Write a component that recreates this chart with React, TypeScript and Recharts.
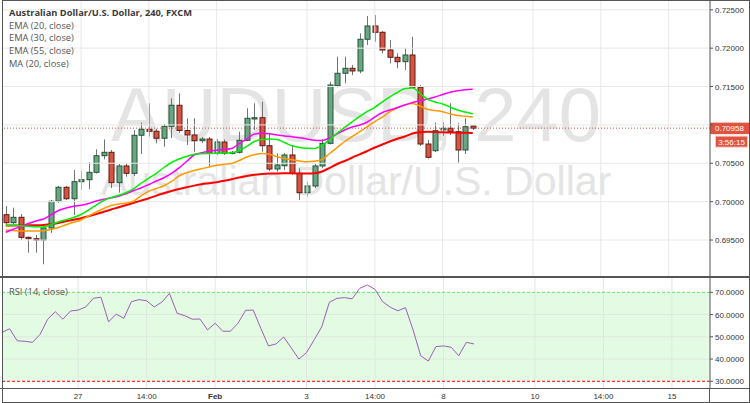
import React from 'react';
import { ComposedChart, Bar, Line, XAxis, YAxis, ReferenceLine, ReferenceArea } from 'recharts';

// AUDUSD 240 candles
const opens = [
  0.69830, 0.69726, 0.69796, 0.69535, 0.69517, 0.69500, 0.69657, 0.70005, 0.70187, 0.70038,
  0.70260, 0.70286, 0.70382, 0.70599, 0.70643, 0.70247, 0.70465, 0.70369, 0.70865, 0.70943,
  0.70917, 0.70826, 0.70982, 0.71256, 0.70927, 0.70869, 0.70794, 0.70816, 0.70630, 0.70777,
  0.70630, 0.70643, 0.70799, 0.71077, 0.71094, 0.70729, 0.70425, 0.70468, 0.70608, 0.70369,
  0.70117, 0.70204, 0.70465, 0.70760, 0.71511, 0.71673, 0.71738, 0.71703, 0.72116, 0.72289,
  0.72207, 0.71976, 0.71881, 0.71824, 0.71911, 0.71490, 0.70751, 0.70664, 0.70934, 0.70956,
  0.70912, 0.70673, 0.70986,
];
const highs = [
  0.69943, 0.69921, 0.69839, 0.69546, 0.69565, 0.69670, 0.70022, 0.70204, 0.70204, 0.70412,
  0.70403, 0.70513, 0.70682, 0.70810, 0.70673, 0.70491, 0.70504, 0.70934, 0.71029, 0.71282,
  0.70947, 0.71012, 0.71347, 0.71412, 0.71086, 0.71086, 0.70842, 0.70842, 0.70816, 0.70810,
  0.70660, 0.70912, 0.71216, 0.71282, 0.71302, 0.70891, 0.70630, 0.70634, 0.70738, 0.70435,
  0.70260, 0.70491, 0.70812, 0.71563, 0.71889, 0.71889, 0.71781, 0.72194, 0.72419, 0.72432,
  0.72224, 0.72106, 0.71933, 0.71998, 0.72149, 0.71520, 0.70803, 0.71029, 0.71029, 0.71282,
  0.71021, 0.71086, 0.70999,
];
const lows = [
  0.69702, 0.69709, 0.69500, 0.69335, 0.69335, 0.69184, 0.69592, 0.69982, 0.70022, 0.69826,
  0.70152, 0.70161, 0.70367, 0.70552, 0.70178, 0.70117, 0.70325, 0.70334, 0.70621, 0.70846,
  0.70760, 0.70716, 0.70829, 0.70895, 0.70738, 0.70651, 0.70764, 0.70448, 0.70608, 0.70608,
  0.70614, 0.70627, 0.70790, 0.70934, 0.70651, 0.70399, 0.70390, 0.70412, 0.70347, 0.70022,
  0.70065, 0.70174, 0.70435, 0.70745, 0.71490, 0.71542, 0.71650, 0.71673, 0.72041, 0.72084,
  0.71933, 0.71803, 0.71738, 0.71716, 0.71481, 0.70725, 0.70562, 0.70647, 0.70856, 0.70869,
  0.70508, 0.70621, 0.70934,
];
const closes = [
  0.69726, 0.69796, 0.69535, 0.69517, 0.69500, 0.69657, 0.70005, 0.70187, 0.70038, 0.70260,
  0.70286, 0.70382, 0.70599, 0.70643, 0.70247, 0.70465, 0.70369, 0.70865, 0.70943, 0.70917,
  0.70826, 0.70982, 0.71256, 0.70927, 0.70869, 0.70794, 0.70816, 0.70630, 0.70777, 0.70630,
  0.70643, 0.70799, 0.71086, 0.71094, 0.70729, 0.70425, 0.70478, 0.70608, 0.70369, 0.70117,
  0.70204, 0.70465, 0.70760, 0.71520, 0.71673, 0.71738, 0.71703, 0.72116, 0.72289, 0.72207,
  0.71976, 0.71881, 0.71824, 0.71911, 0.71490, 0.70751, 0.70578, 0.70925, 0.70956, 0.70912,
  0.70673, 0.70977, 0.70958,
];

// indicator lines
const ema20 = [
  0.69689, 0.69692, 0.69685, 0.69679, 0.69672, 0.69670, 0.69702, 0.69735, 0.69765, 0.69794,
  0.69833, 0.69891, 0.69956, 0.70015, 0.70054, 0.70083, 0.70119, 0.70171, 0.70243, 0.70308,
  0.70369, 0.70445, 0.70510, 0.70556, 0.70588, 0.70617, 0.70625, 0.70627, 0.70630, 0.70634,
  0.70637, 0.70667, 0.70719, 0.70784, 0.70810, 0.70816, 0.70810, 0.70771, 0.70728, 0.70706,
  0.70695, 0.70693, 0.70732, 0.70810, 0.70891, 0.70969, 0.71041, 0.71110, 0.71175, 0.71230,
  0.71301, 0.71366, 0.71422, 0.71475, 0.71481, 0.71409, 0.71334, 0.71299, 0.71273, 0.71233,
  0.71194, 0.71168, 0.71146,
];
const ema30 = [
  0.69631, 0.69624, 0.69618, 0.69618, 0.69618, 0.69621, 0.69637, 0.69663, 0.69698, 0.69731,
  0.69761, 0.69813, 0.69865, 0.69911, 0.69950, 0.69969, 0.69982, 0.70009, 0.70080, 0.70135,
  0.70171, 0.70207, 0.70263, 0.70334, 0.70376, 0.70406, 0.70428, 0.70452, 0.70474, 0.70487,
  0.70497, 0.70536, 0.70582, 0.70611, 0.70627, 0.70617, 0.70586, 0.70562, 0.70545, 0.70530,
  0.70521, 0.70526, 0.70549, 0.70627, 0.70706, 0.70784, 0.70849, 0.70914, 0.70979, 0.71044,
  0.71103, 0.71172, 0.71220, 0.71263, 0.71279, 0.71246, 0.71203, 0.71188, 0.71172, 0.71145,
  0.71123, 0.71112, 0.71103,
];
const ema55 = [
  0.69689, 0.69689, 0.69689, 0.69691, 0.69692, 0.69696, 0.69705, 0.69722, 0.69744, 0.69764,
  0.69784, 0.69810, 0.69837, 0.69868, 0.69898, 0.69926, 0.69956, 0.69985, 0.70015, 0.70045,
  0.70078, 0.70109, 0.70139, 0.70165, 0.70188, 0.70209, 0.70227, 0.70240, 0.70254, 0.70273,
  0.70293, 0.70315, 0.70334, 0.70350, 0.70360, 0.70366, 0.70368, 0.70369, 0.70369, 0.70368,
  0.70367, 0.70371, 0.70393, 0.70441, 0.70491, 0.70530, 0.70575, 0.70617, 0.70660, 0.70706,
  0.70745, 0.70784, 0.70819, 0.70849, 0.70888, 0.70905, 0.70910, 0.70908, 0.70904, 0.70901,
  0.70899, 0.70897, 0.70895,
];
const ma20 = [
  0.69601, 0.69640, 0.69676, 0.69715, 0.69748, 0.69774, 0.69826, 0.69885, 0.69917, 0.69941,
  0.69954, 0.69976, 0.70009, 0.70032, 0.70050, 0.70071, 0.70106, 0.70145, 0.70181, 0.70224,
  0.70269, 0.70311, 0.70367, 0.70439, 0.70523, 0.70608, 0.70637, 0.70657, 0.70669, 0.70681,
  0.70693, 0.70758, 0.70816, 0.70882, 0.70892, 0.70884, 0.70869, 0.70856, 0.70846, 0.70832,
  0.70816, 0.70800, 0.70797, 0.70829, 0.70884, 0.70934, 0.70973, 0.70999, 0.71038, 0.71103,
  0.71162, 0.71194, 0.71227, 0.71259, 0.71292, 0.71314, 0.71338, 0.71364, 0.71396, 0.71425,
  0.71444, 0.71458, 0.71464,
];
const rsi14 = [
  52.0, 53.6, 48.2, 48.0, 47.5, 51.1, 57.9, 61.3, 57.9, 61.6,
  62.0, 63.4, 67.3, 67.8, 56.7, 60.2, 58.3, 65.8, 66.7, 66.2,
  63.4, 65.6, 69.5, 60.6, 59.5, 57.9, 58.0, 53.1, 56.1, 52.5,
  52.5, 56.1, 61.9, 62.0, 53.8, 45.9, 46.8, 49.9, 45.0, 40.0,
  42.9, 48.6, 54.5, 65.5, 67.3, 67.6, 67.1, 71.8, 73.3, 71.3,
  65.8, 63.3, 61.7, 63.1, 53.1, 41.5, 39.1, 45.6, 45.9, 45.3,
  41.5, 47.5, 46.8,
];

const slotCount = 94; // bars plus empty space on the right
const timeTicks = [10, 19, 28, 40, 49, 58, 70, 79, 88];
const timeLabels = ['27', '14:00', 'Feb', '3', '14:00', '8', '10', '14:00', '15'];
const priceTicks = [0.695, 0.7, 0.705, 0.71, 0.715, 0.72, 0.725];
const rsiTicks = [30, 40, 50, 60, 70];
const rsiGrid = [40, 50, 60];
const timer = '3:56:15';
const lastPrice = closes[closes.length - 1];

const rows = Array.from({ length: slotCount }, (_, i) =>
  i < closes.length
    ? {
        i,
        open: opens[i],
        high: highs[i],
        low: lows[i],
        close: closes[i],
        range: [lows[i], highs[i]],
        ema20: ema20[i],
        ema30: ema30[i],
        ema55: ema55[i],
        ma20: ma20[i],
        rsi: rsi14[i],
      }
    : { i }
);

const AXIS_FONT = "'Liberation Sans', Arial, sans-serif";
const LEGEND_FONT = "'Open Sans', 'Liberation Sans', sans-serif";
const GRID = '#e8e8e8';
const FRAME = '#555';
const TAG = '#e0533f';

const Candle = (props: any) => {
  const { x, y, width, height, payload } = props;
  if (!payload || payload.open == null) return <g />;
  const { open, close, high, low } = payload;
  const top = height < 0 ? y + height : y;
  const h = Math.abs(height);
  const k = high > low ? h / (high - low) : 0;
  const py = (v: number) => top + (high - v) * k;
  const cx = Math.round(x + width / 2) + 0.5;
  const up = close >= open;
  const b1 = py(Math.max(open, close));
  const b2 = py(Math.min(open, close));
  return (
    <g>
      <line x1={cx} x2={cx} y1={top} y2={top + h} stroke="#737375" strokeWidth={1} />
      <rect
        x={cx - 2.5}
        y={b1}
        width={5}
        height={Math.max(b2 - b1, 1)}
        fill={up ? '#6ba583' : '#d75442'}
        stroke={up ? '#225437' : '#5b1a13'}
        strokeWidth={1}
      />
    </g>
  );
};

// price axis label; the one sitting under the last-price tag is covered in the original
const PriceTick = (props: any) => {
  const { x, y, payload } = props;
  if (Math.abs(payload.value - lastPrice) < 0.0008) return <g />;
  return (
    <text x={x} y={y} dy={3} fontSize={8} fill="#333" fontFamily={AXIS_FONT}>
      {payload.value.toFixed(5)}
    </text>
  );
};

const RsiTick = (props: any) => {
  const { x, y, payload } = props;
  return (
    <text x={x} y={y} dy={3} fontSize={8} fill="#333" fontFamily={AXIS_FONT}>
      {payload.value.toFixed(4)}
    </text>
  );
};

const PriceTag = (props: any) => {
  const vb = props.viewBox || {};
  const left = vb.x + vb.width;
  const y = vb.y;
  return (
    <g fontFamily={AXIS_FONT}>
      <rect x={left} y={y - 5.5} width={40} height={11.5} fill={TAG} />
      <text x={left + 5} y={y + 3} fontSize={8} fill="#fff">{lastPrice.toFixed(5)}</text>
      <rect x={left + 5.5} y={y + 8} width={32} height={11} fill={TAG} stroke="#f6c9c2" strokeWidth={1} />
      <text x={left + 21.5} y={y + 16.5} fontSize={8} fill="#fff" textAnchor="middle">{timer}</text>
    </g>
  );
};

const TimeTick = (props: any) => {
  const { x, y, payload } = props;
  const k = timeTicks.indexOf(payload.value);
  if (k < 0) return <g />;
  const lab = timeLabels[k];
  return (
    <text x={x} y={y} dy={10.5} textAnchor="middle" fontSize={8} fill="#333" fontFamily={AXIS_FONT} fontWeight={lab === 'Feb' ? 'bold' : 'normal'}>
      {lab}
    </text>
  );
};

const legendLines = ['EMA (20, close)', 'EMA (30, close)', 'EMA (55, close)', 'MA (20, close)'];

export default function App() {
  return (
    <div style={{ position: 'absolute', left: 0, top: 0, width: 750, height: 403, background: '#fff', overflow: 'hidden' }}>
      {/* watermark */}
      <svg width={750} height={403} style={{ position: 'absolute', left: 0, top: 0 }}>
        <text x={356} y={141} textAnchor="middle" fontSize={76} fill="#e4e4e4" fontFamily={AXIS_FONT}>AUDUSD, 240</text>
        <text x={356} y={194.5} textAnchor="middle" fontSize={41} fill="#e4e4e4" fontFamily={AXIS_FONT}>Australian Dollar/U.S. Dollar</text>
      </svg>

      <div style={{ position: 'absolute', left: 0, top: 0 }}>
        <ComposedChart width={750} height={277} data={rows} margin={{ top: 1, right: 0, bottom: 1, left: 2 }}>
          <XAxis dataKey="i" type="category" hide />
          <YAxis
            orientation="right"
            width={40}
            domain={[0.690311, 0.726147]}
            ticks={priceTicks}
            interval={0}
            allowDataOverflow
            tick={<PriceTick />}
            tickSize={3}
            tickMargin={2}
            axisLine={{ stroke: FRAME }}
            tickLine={{ stroke: FRAME }}
          />
          {priceTicks.map((p) => (
            <ReferenceLine key={'p' + p} y={p} stroke={GRID} />
          ))}
          {timeTicks.map((t) => (
            <ReferenceLine key={'t' + t} x={t} stroke={GRID} />
          ))}
          <Bar dataKey="range" shape={<Candle />} isAnimationActive={false} />
          <Line type="monotone" dataKey="ema55" stroke="#ff0000" strokeWidth={2} dot={false} isAnimationActive={false} />
          <Line type="monotone" dataKey="ema30" stroke="#ff9900" strokeWidth={1.5} dot={false} isAnimationActive={false} />
          <Line type="monotone" dataKey="ma20" stroke="#ff00ff" strokeWidth={1.5} dot={false} isAnimationActive={false} />
          <Line type="monotone" dataKey="ema20" stroke="#00f000" strokeWidth={1.5} dot={false} isAnimationActive={false} />
          <ReferenceLine y={lastPrice} stroke={TAG} strokeDasharray="1 2" label={<PriceTag />} />
        </ComposedChart>
      </div>

      <div style={{ position: 'absolute', left: 0, top: 277 }}>
        <ComposedChart width={750} height={126} data={rows} margin={{ top: 1, right: 0, bottom: 0, left: 2 }}>
          <XAxis
            dataKey="i"
            type="category"
            ticks={timeTicks}
            interval={0}
            height={15}
            axisLine={false}
            tickLine={false}
            tickSize={0}
            tickMargin={0}
            tick={<TimeTick />}
          />
          <YAxis
            orientation="right"
            width={40}
            domain={[26.99, 76.43]}
            ticks={rsiTicks}
            interval={0}
            allowDataOverflow
            tick={<RsiTick />}
            tickSize={3}
            tickMargin={2}
            axisLine={{ stroke: FRAME }}
            tickLine={{ stroke: FRAME }}
          />
          <ReferenceArea y1={30} y2={70} fill="#e3fbe3" fillOpacity={1} stroke="none" />
          {rsiGrid.map((v) => (
            <ReferenceLine key={'r' + v} y={v} stroke="#dfe8df" />
          ))}
          {timeTicks.map((t) => (
            <ReferenceLine key={'rt' + t} x={t} stroke="#dfe8df" />
          ))}
          <ReferenceLine y={70} stroke="#5fe35f" strokeDasharray="3 2" />
          <ReferenceLine y={30} stroke="#ff0000" strokeDasharray="3 2" />
          <Line type="linear" dataKey="rsi" stroke="#9b5fb5" strokeWidth={1} dot={false} isAnimationActive={false} />
        </ComposedChart>
      </div>

      {/* frame and pane separators */}
      <div style={{ position: 'absolute', left: 2, top: 0, width: 748, height: 403, boxSizing: 'border-box', border: `1px solid ${FRAME}` }} />
      <div style={{ position: 'absolute', left: 0, top: 276, width: 750, height: 2, background: FRAME }} />
      <div style={{ position: 'absolute', left: 0, top: 388, width: 750, height: 1, background: FRAME }} />
      <div style={{ position: 'absolute', left: 709, top: 388, width: 1, height: 15, background: FRAME }} />

      {/* legends */}
      <div style={{ position: 'absolute', left: 9, top: 7, fontFamily: LEGEND_FONT, fontSize: 9.3, lineHeight: '12.7px', color: '#555', whiteSpace: 'nowrap' }}>
        <div style={{ fontWeight: 'bold', color: '#3a3a3a' }}>Australian Dollar/U.S. Dollar, 240, FXCM</div>
        {legendLines.map((t) => (
          <div key={t}>{t}</div>
        ))}
      </div>
      <div style={{ position: 'absolute', left: 9, top: 285.5, fontFamily: LEGEND_FONT, fontSize: 9.3, lineHeight: '12.7px', color: '#555', whiteSpace: 'nowrap' }}>
        RSI (14, close)
      </div>
    </div>
  );
}
